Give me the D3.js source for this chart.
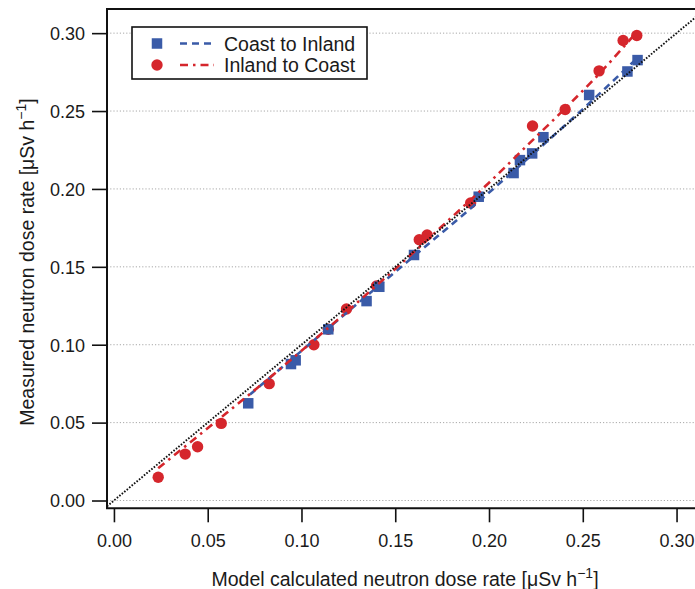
<!DOCTYPE html>
<html><head><meta charset="utf-8">
<script src="https://cdn.jsdelivr.net/npm/d3@7"></script>
<style>body{margin:0;background:#fff}svg{display:block}text{font-family:"Liberation Sans",Arial,sans-serif;fill:#1a1a1a}</style>
</head><body><svg id="c" width="695" height="589"></svg>
<script>
// Coast to Inland (blue squares)
const coastX = [0.0716, 0.0944, 0.0969, 0.1143, 0.1347, 0.1415, 0.1600, 0.1945, 0.2131, 0.2165, 0.2230, 0.2290, 0.2534, 0.2738, 0.2792];
const coastY = [0.0624, 0.0876, 0.0900, 0.1099, 0.1280, 0.1372, 0.1576, 0.1950, 0.2102, 0.2185, 0.2228, 0.2332, 0.2603, 0.2754, 0.2827];
// Inland to Coast (red circles)
const inlandX = [0.0236, 0.0380, 0.0446, 0.0572, 0.0828, 0.1066, 0.1143, 0.1240, 0.1400, 0.1628, 0.1670, 0.1902, 0.2232, 0.2406, 0.2587, 0.2715, 0.2788];
const inlandY = [0.0149, 0.0298, 0.0345, 0.0495, 0.0750, 0.1000, 0.1099, 0.1229, 0.1377, 0.1674, 0.1704, 0.1910, 0.2404, 0.2510, 0.2758, 0.2953, 0.2985];
// fitted curves
const coastFitX = [0.0725, 0.09, 0.11, 0.13, 0.15, 0.17, 0.19, 0.21, 0.23, 0.25, 0.2786];
const coastFitY = [0.0680, 0.0858, 0.1062, 0.1265, 0.1468, 0.1670, 0.1873, 0.2082, 0.2295, 0.2512, 0.2835];
const inlandFitX = [0.0236, 0.04, 0.06, 0.08, 0.10, 0.12, 0.14, 0.16, 0.18, 0.20, 0.22, 0.24, 0.26, 0.2786];
const inlandFitY = [0.0207, 0.0367, 0.0561, 0.0758, 0.0961, 0.1168, 0.1380, 0.1595, 0.1817, 0.2040, 0.2275, 0.2510, 0.2755, 0.3005];
const xTicks = [0.00, 0.05, 0.10, 0.15, 0.20, 0.25, 0.30];
const yTicks = [0.00, 0.05, 0.10, 0.15, 0.20, 0.25, 0.30];
const seriesNames = ["Coast to Inland", "Inland to Coast"];
const blue = "#3a5ba8", red = "#d5262c";

const svg = d3.select("#c");
const L = 107, R = 703, T = 9, B = 508.3;
const x = d3.scaleLinear().domain([-0.0037, 0.3141]).range([L, R]);
const y = d3.scaleLinear().domain([-0.005, 0.3155]).range([B, T]);

svg.append("clipPath").attr("id","clip").append("rect").attr("x",L).attr("y",T).attr("width",R-L).attr("height",B-T);

// gridlines
svg.append("g").selectAll("line").data(yTicks).join("line")
  .attr("x1", L).attr("x2", R).attr("y1", d=>y(d)).attr("y2", d=>y(d))
  .attr("stroke", "#a8a8a8").attr("stroke-width", 1).attr("stroke-dasharray", "1.2,2");

const plot = svg.append("g").attr("clip-path","url(#clip)");

// markers
plot.append("g").selectAll("circle").data(inlandX.map((v,i)=>[v,inlandY[i]])).join("circle")
  .attr("cx", d=>x(d[0])).attr("cy", d=>y(d[1])).attr("r", 5.7).attr("fill", red);
const s = 10.5;
plot.append("g").selectAll("rect").data(coastX.map((v,i)=>[v,coastY[i]])).join("rect")
  .attr("x", d=>x(d[0])-s/2).attr("y", d=>y(d[1])-s/2).attr("width", s).attr("height", s).attr("fill", blue);

const line = d3.line().x(d=>x(d[0])).y(d=>y(d[1])).curve(d3.curveMonotoneX);
plot.append("path").datum(coastFitX.map((v,i)=>[v,coastFitY[i]])).attr("d", line)
  .attr("fill","none").attr("stroke", blue).attr("stroke-width", 2.6).attr("stroke-dasharray","7,5");
plot.append("path").datum(inlandFitX.map((v,i)=>[v,inlandFitY[i]])).attr("d", line)
  .attr("fill","none").attr("stroke", red).attr("stroke-width", 2.6).attr("stroke-dasharray","8,5,2.5,5");

// 1:1 line
plot.append("path").datum([[-0.0037,-0.0037],[0.3141,0.3141]]).attr("d", d3.line().x(d=>x(d[0])).y(d=>y(d[1])))
  .attr("stroke","#111").attr("stroke-width",1.9).attr("stroke-dasharray","1.6,1.6");

// frame
svg.append("path").attr("d", `M${R},${T}H${L}V${B}H${R}`).attr("fill","none").attr("stroke","#111").attr("stroke-width",2);

// axes
const xAxis = svg.append("g").attr("transform",`translate(0,${B})`)
  .call(d3.axisBottom(x).tickValues(xTicks).tickFormat(d3.format(".2f")).tickSize(14).tickPadding(12));
const yAxis = svg.append("g").attr("transform",`translate(${L},0)`)
  .call(d3.axisLeft(y).tickValues(yTicks).tickFormat(d3.format(".2f")).tickSize(15).tickPadding(7));
[xAxis,yAxis].forEach(a=>{
  a.select(".domain").remove();
  a.selectAll(".tick line").attr("stroke","#111").attr("stroke-width",1.6);
  a.selectAll(".tick text").attr("font-size",18).attr("fill","#1a1a1a").style("font-family",'"Liberation Sans",Arial,sans-serif');
});
yAxis.selectAll(".tick text").attr("dy","0.35em");

// axis titles
function unitTitle(g, main){
  const t = g.append("text").attr("font-size",19.5).attr("text-anchor","middle");
  t.append("tspan").text(main + " [\u03BCSv h");
  t.append("tspan").attr("dy",-8).attr("font-size",14).text("\u22121");
  t.append("tspan").attr("dy",8).text("]");
  return t;
}
unitTitle(svg.append("g").attr("transform","translate(405,586)"), "Model calculated neutron dose rate");
unitTitle(svg.append("g").attr("transform","translate(34,262) rotate(-90)"), "Measured neutron dose rate");

// legend
const lg = svg.append("g");
lg.append("rect").attr("x",132).attr("y",27).attr("width",235).attr("height",52).attr("fill","#fff").attr("stroke","#111").attr("stroke-width",1.6);
const rows = [{name:seriesNames[0], c:blue, dash:"7,5", shape:"sq"},{name:seriesNames[1], c:red, dash:"8,5,2.5,5", shape:"ci"}];
rows.forEach((r,i)=>{
  const cy = 43.5 + i*21.5;
  if(r.shape==="sq") lg.append("rect").attr("x",157-s/2).attr("y",cy-s/2).attr("width",s).attr("height",s).attr("fill",r.c);
  else lg.append("circle").attr("cx",157).attr("cy",cy).attr("r",5.7).attr("fill",r.c);
  lg.append("line").attr("x1",180).attr("x2",214).attr("y1",cy).attr("y2",cy).attr("stroke",r.c).attr("stroke-width",2.6).attr("stroke-dasharray",r.dash);
  lg.append("text").attr("x",224).attr("y",cy+7).attr("font-size",19.5).text(r.name);
});
</script></body></html>
